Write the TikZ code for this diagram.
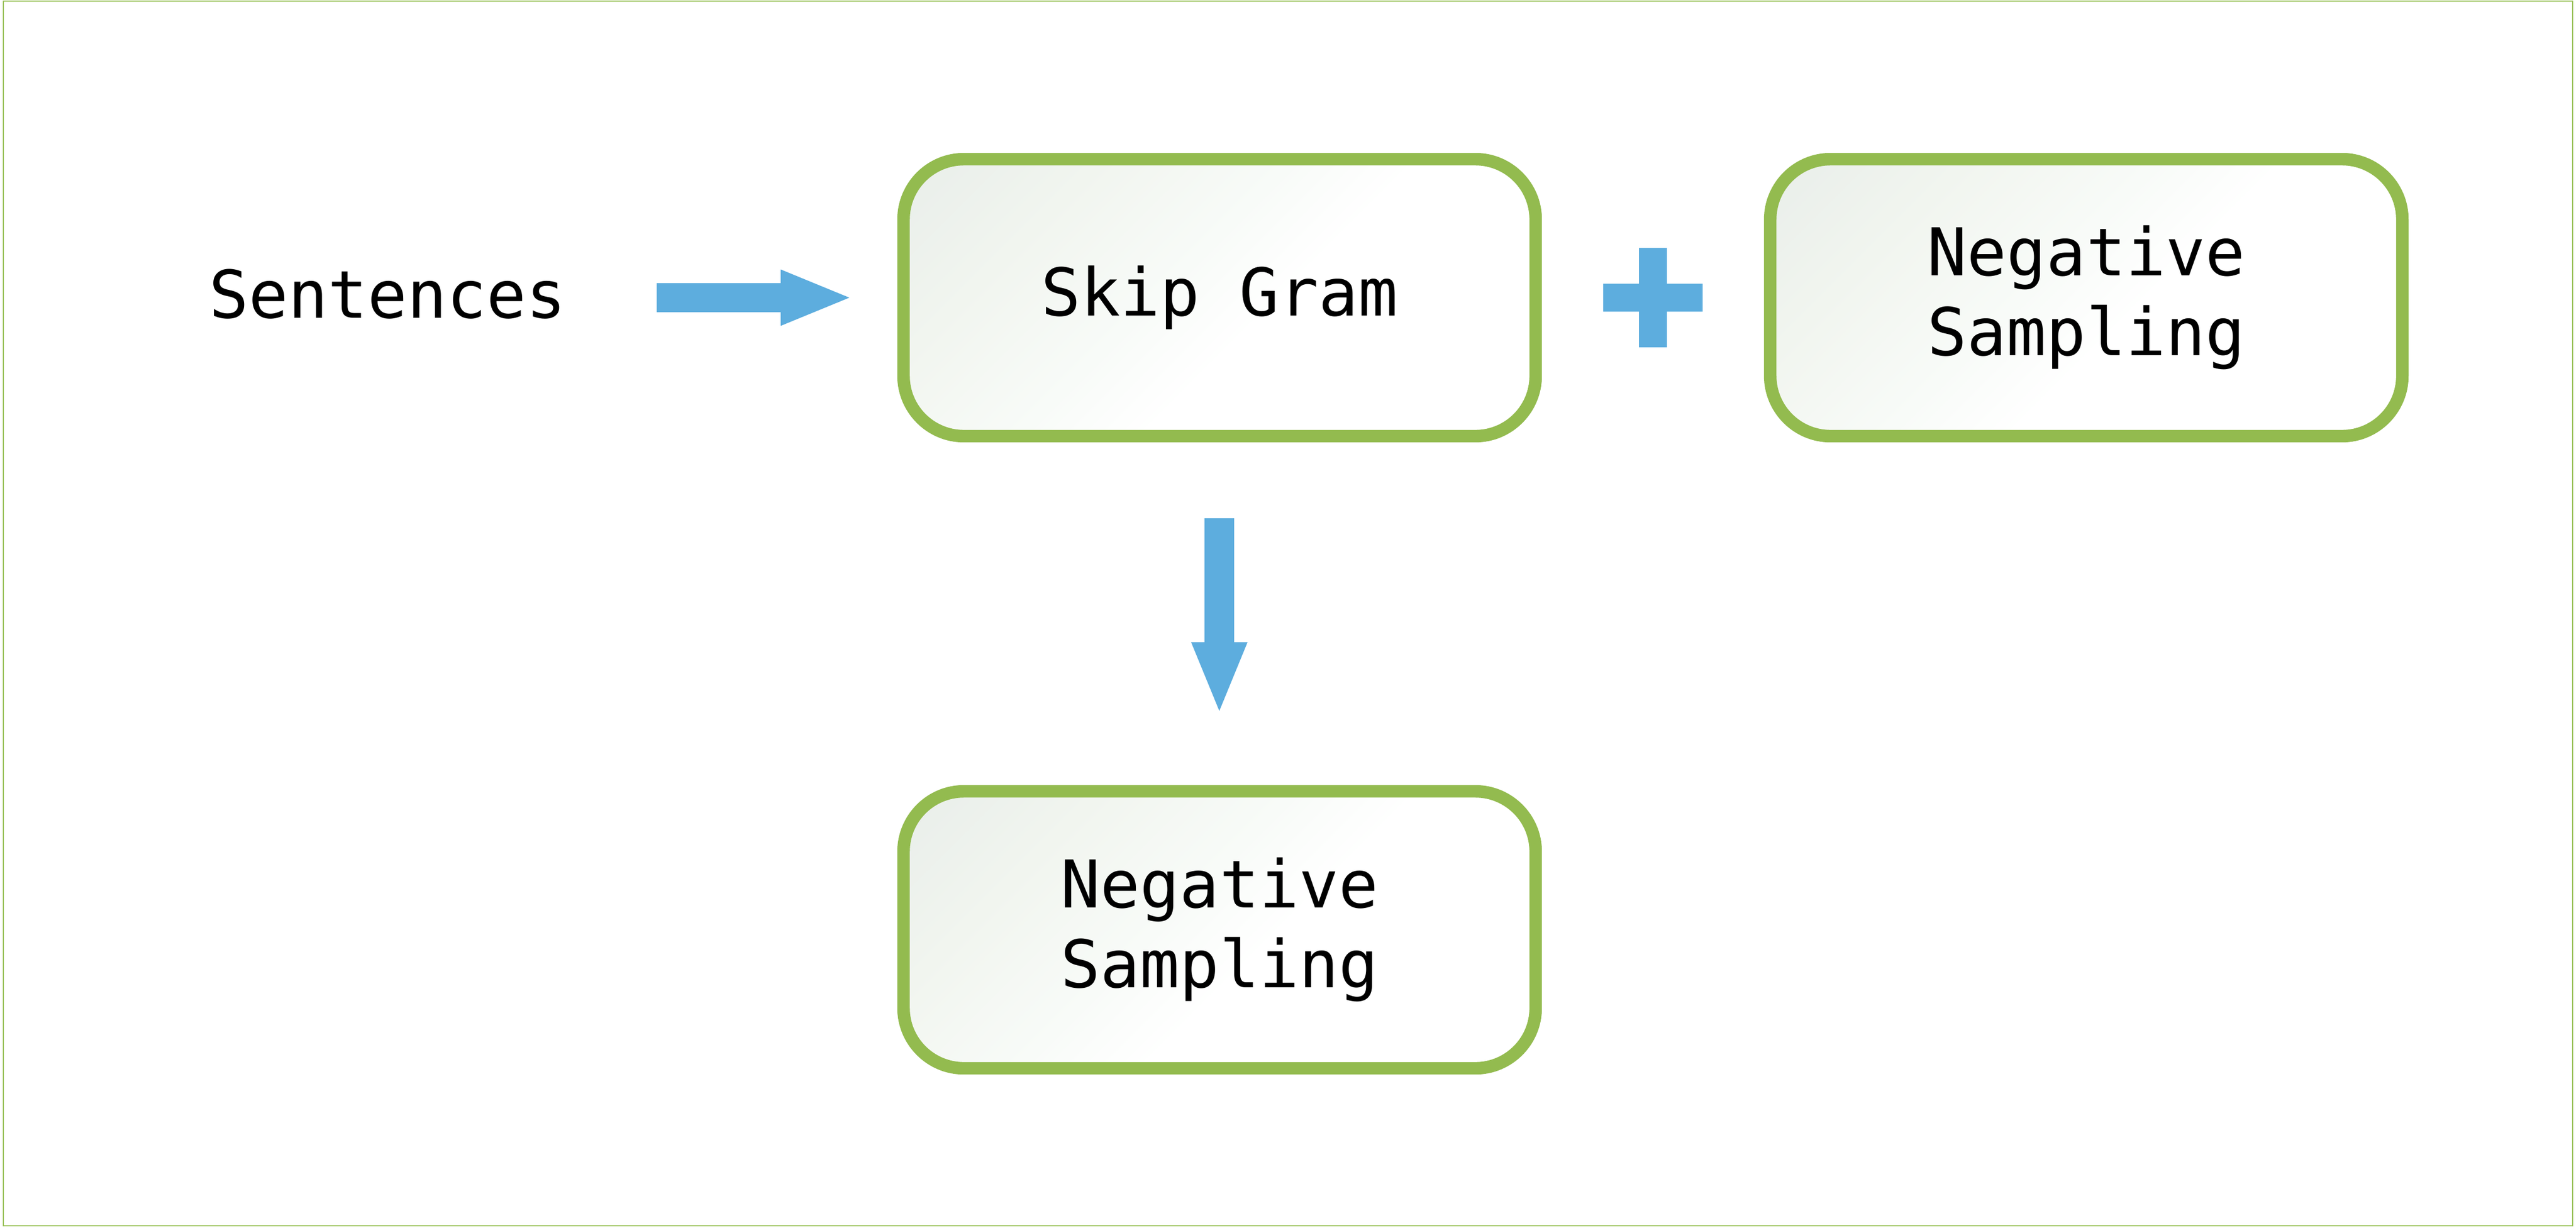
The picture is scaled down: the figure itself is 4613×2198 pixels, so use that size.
\documentclass[tikz,border=0pt]{standalone}
\usepackage{fontspec}
\newfontfamily\diafont{DejaVu Sans Mono}
\usetikzlibrary{calc}
\definecolor{boxgreen}{HTML}{93BB4F}
\definecolor{framegreen}{HTML}{9CC35E}
\definecolor{arrowblue}{HTML}{5DADDE}
\definecolor{shA}{HTML}{E9EEEA}
\definecolor{shB}{HTML}{F1F5EF}
\definecolor{shC}{HTML}{F8FBF8}
\pgfdeclarehorizontalshading{boxshade}{100bp}{color(0bp)=(shA); color(15bp)=(shA); color(30bp)=(shB); color(45bp)=(shC); color(55bp)=(white); color(100bp)=(white)}
\tikzset{
  labelfont/.style={font=\diafont\fontsize{29.5pt}{35.75pt}\selectfont},
  stagebox/.style={draw=boxgreen, line width=5.6pt, rounded corners=27pt,
    minimum width=283pt, minimum height=124pt, shade, shading=boxshade,
    shading angle=-45, labelfont, align=center, inner sep=0pt},
  blockarrow/.style={fill=arrowblue},
}
\begin{document}
\begin{tikzpicture}[x=0.25pt,y=-0.25pt]
  \fill[white] (0,0) rectangle (4613,2198);
  \useasboundingbox (0,0) rectangle (4613,2198);
  \draw[framegreen, line width=0.7pt] (6,2) rectangle (4607,2195);

  \node[labelfont, anchor=base, inner sep=0pt] (sent) at (694,569) {Sentences};
  \node[stagebox] (skip) at (2184,533) {Skip Gram};
  \node[stagebox] (negr) at (3736,533) {Negative\\Sampling};
  \node[stagebox] (negb) at (2184,1665) {Negative\\Sampling};

  % arrow Sentences -> Skip Gram
  \coordinate (a1s) at (1176,533);
  \coordinate (a1e) at (1521,533);
  \fill[blockarrow] ($(a1s)+(0,-26)$) -- ($(a1e)+(-123,-26)$) -- ($(a1e)+(-123,-50.5)$)
    -- (a1e) -- ($(a1e)+(-123,50.5)$) -- ($(a1e)+(-123,26)$) -- ($(a1s)+(0,26)$) -- cycle;

  % arrow Skip Gram -> Negative Sampling (bottom)
  \coordinate (a2s) at (2183.5,928);
  \coordinate (a2e) at (2183.5,1273);
  \fill[blockarrow] ($(a2s)+(-26.5,0)$) -- ($(a2e)+(-26.5,-123)$) -- ($(a2e)+(-50.5,-123)$)
    -- (a2e) -- ($(a2e)+(50.5,-123)$) -- ($(a2e)+(26.5,-123)$) -- ($(a2s)+(26.5,0)$) -- cycle;

  % plus sign
  \coordinate (plus) at (2960,533);
  \fill[blockarrow] ($(plus)+(-89,-25)$) rectangle ($(plus)+(89,25)$);
  \fill[blockarrow] ($(plus)+(-25,-89)$) rectangle ($(plus)+(25,89)$);
\end{tikzpicture}
\end{document}
